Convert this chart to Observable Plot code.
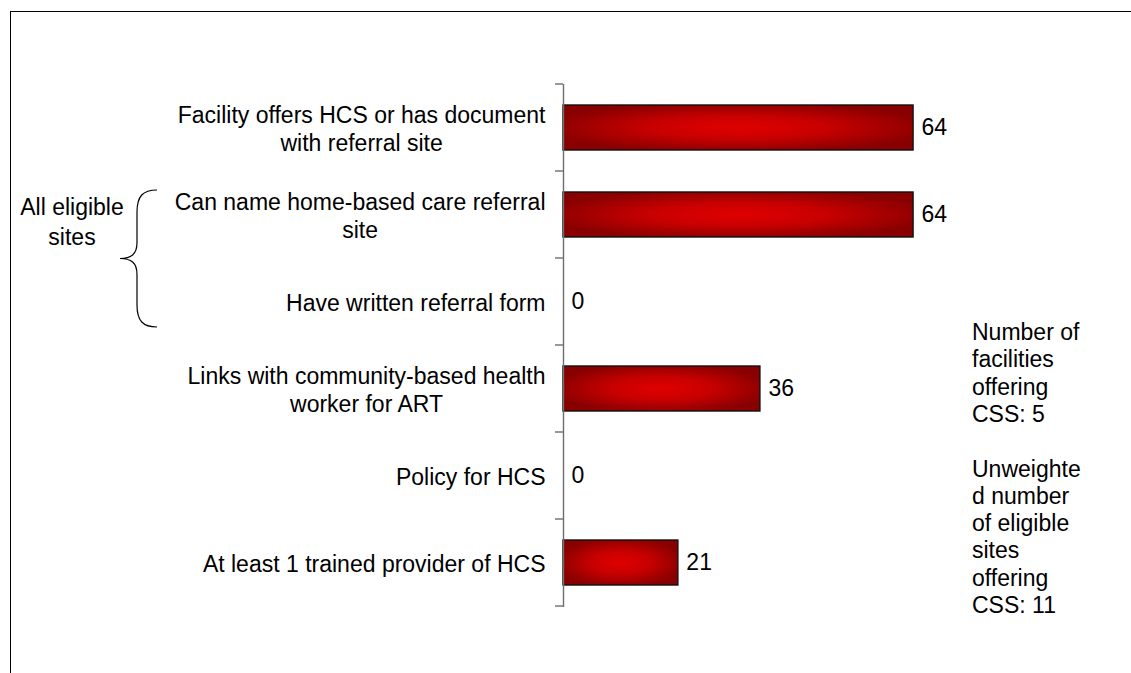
<!DOCTYPE html>
<html>
<head>
<meta charset="utf-8">
<script src="https://cdn.jsdelivr.net/npm/d3@7"></script>
<script src="https://cdn.jsdelivr.net/npm/@observablehq/plot@0.6"></script>
<style>
  html, body { margin: 0; padding: 0; background: #fff; }
  #chart { width: 1131px; height: 673px; overflow: hidden; }
</style>
</head>
<body>
<div id="chart"></div>
<script>
// ---- data ----
const categories = [
  "Facility offers HCS or has document\nwith referral site",
  "Can name home-based care referral\nsite",
  "Have written referral form",
  "Links with community-based health\nworker for ART",
  "Policy for HCS",
  "At least 1 trained provider of HCS"
];
const values = [64, 64, 0, 36, 0, 21];
const groupLabel = "All eligible\nsites";
const groupMembers = [categories[1], categories[2]];
const noteLines = [
  "Number of", "facilities", "offering", "CSS: 5", "",
  "Unweighte", "d number", "of eligible", "sites", "offering", "CSS: 11"
];
const xDomain = [0, 100];

const data = categories.map((c, i) => ({cat: c, value: values[i]}));

const FONT = "'Liberation Sans', Arial, Helvetica, sans-serif";
const FS = 23;
const W = 1131, H = 673;

const plot = Plot.plot({
  width: W,
  height: H,
  marginLeft: 563,
  marginRight: 21,
  marginTop: 84,
  marginBottom: 66,
  style: {fontFamily: FONT, fontSize: FS + "px", background: "#fff", color: "#000"},
  x: {domain: xDomain, axis: null},
  y: {domain: categories, axis: null, paddingInner: 0.48, paddingOuter: 0.24},
  marks: [
    Plot.barX(data, {
      x: "value", y: "cat",
      filter: d => d.value > 0,
      fill: "url(#barGrad)", stroke: "#111", strokeWidth: 1.4
    }),
    Plot.ruleX([0], {stroke: "#6e6e6e", strokeWidth: 1.4}),
    Plot.text(data, {
      x: "value", y: "cat", text: d => String(d.value),
      textAnchor: "start", dx: 8, fontSize: FS, fill: "#000"
    }),
    Plot.text(data, {
      x: 0, y: "cat", text: "cat",
      textAnchor: "end", dx: -18, fontSize: FS, lineHeight: 28 / FS, fill: "#000",
      ariaDescription: "category-labels"
    })
  ]
});

document.getElementById("chart").appendChild(plot);

const svg = d3.select(plot);

// gradient definition for bars
const defs = svg.insert("defs", ":first-child");
const grad = defs.append("radialGradient")
  .attr("id", "barGrad")
  .attr("gradientUnits", "objectBoundingBox")
  .attr("cx", 0.5).attr("cy", 0.5).attr("r", 0.56);
grad.append("stop").attr("offset", "0").attr("stop-color", "#e00000");
grad.append("stop").attr("offset", "0.45").attr("stop-color", "#c80000");
grad.append("stop").attr("offset", "1").attr("stop-color", "#880000");

// outer frame (partially visible)
svg.append("rect")
  .attr("x", 10.5).attr("y", 11.5).attr("width", 1300).attr("height", 800)
  .attr("fill", "none").attr("stroke", "#000").attr("stroke-width", 1);

// centre multi-line category labels within their block
plot.querySelectorAll('g[aria-description="category-labels"] text').forEach(t => {
  const spans = t.querySelectorAll("tspan");
  if (spans.length > 1) {
    let w = 0;
    spans.forEach(s => { w = Math.max(w, s.getComputedTextLength()); });
    t.setAttribute("text-anchor", "middle");
    spans.forEach(s => s.setAttribute("x", -w / 2));
  }
});

// band-boundary ticks on the category axis
const ys = plot.scale("y");
const xs = plot.scale("x");
const step = ys.step, bw = ys.bandwidth;
const x0 = xs.apply(0);
const bandTop = c => ys.apply(c) - (step - bw) / 2;
const bounds = categories.map(bandTop).concat([bandTop(categories[categories.length - 1]) + step]);
svg.append("g").selectAll("line").data(bounds).join("line")
  .attr("x1", x0 - 8).attr("x2", x0).attr("y1", d => d).attr("y2", d => d)
  .attr("stroke", "#6e6e6e").attr("stroke-width", 1.4);

// brace for grouped categories
const bTop = ys.apply(groupMembers[0]) - 2;
const bBot = ys.apply(groupMembers[1]) + bw + 3;
const bMid = (bTop + bBot) / 2;
const sx = 137, tipX = 120, endX = 157;
const brace = `M${endX},${bTop} C${sx + 6},${bTop} ${sx},${bTop + 6} ${sx},${bTop + 22}
  L${sx},${bMid - 16} C${sx},${bMid - 4} ${sx - 6},${bMid} ${tipX},${bMid}
  C${sx - 6},${bMid} ${sx},${bMid + 4} ${sx},${bMid + 16}
  L${sx},${bBot - 22} C${sx},${bBot - 6} ${sx + 6},${bBot} ${endX},${bBot}`;
svg.append("path").attr("d", brace).attr("fill", "none")
  .attr("stroke", "#000").attr("stroke-width", 1.2);

// group label
const gl = groupLabel.split("\n");
const glCenter = ys.apply(groupMembers[0]) + bw / 2 + 7;
const glText = svg.append("text")
  .attr("font-family", FONT).attr("font-size", FS).attr("text-anchor", "middle")
  .attr("fill", "#000");
gl.forEach((line, i) => {
  glText.append("tspan").attr("x", 72)
    .attr("y", glCenter + 8 + (i - (gl.length - 1) / 2) * 30).text(line);
});

// side notes
const notes = svg.append("text")
  .attr("font-family", FONT).attr("font-size", FS).attr("text-anchor", "start")
  .attr("fill", "#000");
noteLines.forEach((line, i) => {
  notes.append("tspan").attr("x", 972).attr("y", 340 + i * 27.3).text(line);
});
</script>
</body>
</html>
